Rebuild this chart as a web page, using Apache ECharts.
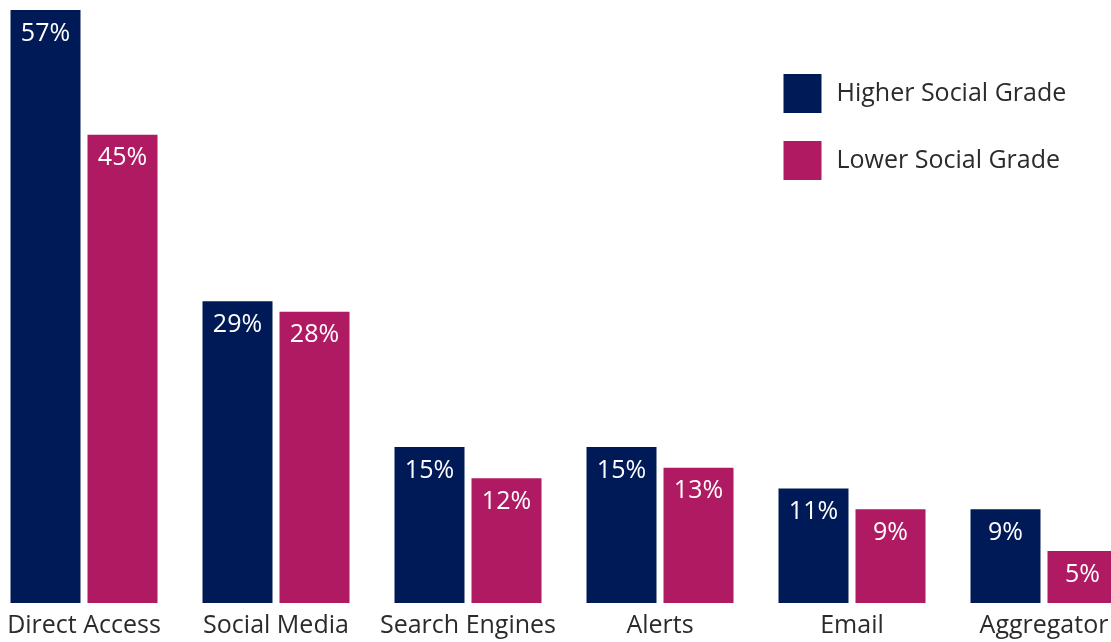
<!DOCTYPE html>
<html>
<head>
<meta charset="utf-8">
<script src="https://cdn.jsdelivr.net/npm/echarts@6/dist/echarts.min.js"></script>
<style>html,body{margin:0;padding:0;background:#fff;overflow:hidden;width:1111px;height:642px;position:relative}
#c{position:absolute;left:-12.5px;top:0;width:1152px;height:642px}</style>
</head>
<body>
<div id="c"></div>
<script>
const categories = ['Direct Access', 'Social Media', 'Search Engines', 'Alerts', 'Email', 'Aggregator'];
const higher = [57, 29, 15, 15, 11, 9];
const lower = [45, 28, 12, 13, 9, 5];
const seriesNames = ['Higher Social Grade', 'Lower Social Grade'];

const FONT = 'Open Sans';
const chart = echarts.init(document.getElementById('c'), null, {renderer: 'canvas'});
const labelCfg = {
  show: true, position: 'insideTop', distance: 11,
  color: '#ffffff', fontSize: 25, fontFamily: FONT,
  formatter: p => p.value + '%'
};
chart.setOption({
  animation: false,
  backgroundColor: '#ffffff',
  textStyle: {fontFamily: FONT},
  grid: {left: 0, right: 0, top: 10, bottom: 39, containLabel: false},
  legend: {
    orient: 'vertical', left: 790.5, top: 69,
    itemWidth: 38, itemHeight: 39, itemGap: 28,
    icon: 'rect',
    textStyle: {fontSize: 25, color: '#2b2b2b', fontFamily: FONT, padding: [0, 0, 0, 10]},
    data: seriesNames
  },
  xAxis: {
    type: 'category', data: categories,
    axisLine: {show: false}, axisTick: {show: false},
    axisLabel: {fontSize: 25, color: '#2b2b2b', margin: 10, fontFamily: FONT, interval: 0}
  },
  yAxis: {type: 'value', min: 0, max: 57, show: false, splitLine: {show: false}},
  series: [
    {name: seriesNames[0], type: 'bar', data: higher, barWidth: 70, barGap: '10%',
     itemStyle: {color: '#001a57'}, label: labelCfg},
    {name: seriesNames[1], type: 'bar', data: lower, barWidth: 70, barGap: '10%',
     itemStyle: {color: '#b01a62'}, label: labelCfg}
  ]
});
</script>
</body>
</html>
